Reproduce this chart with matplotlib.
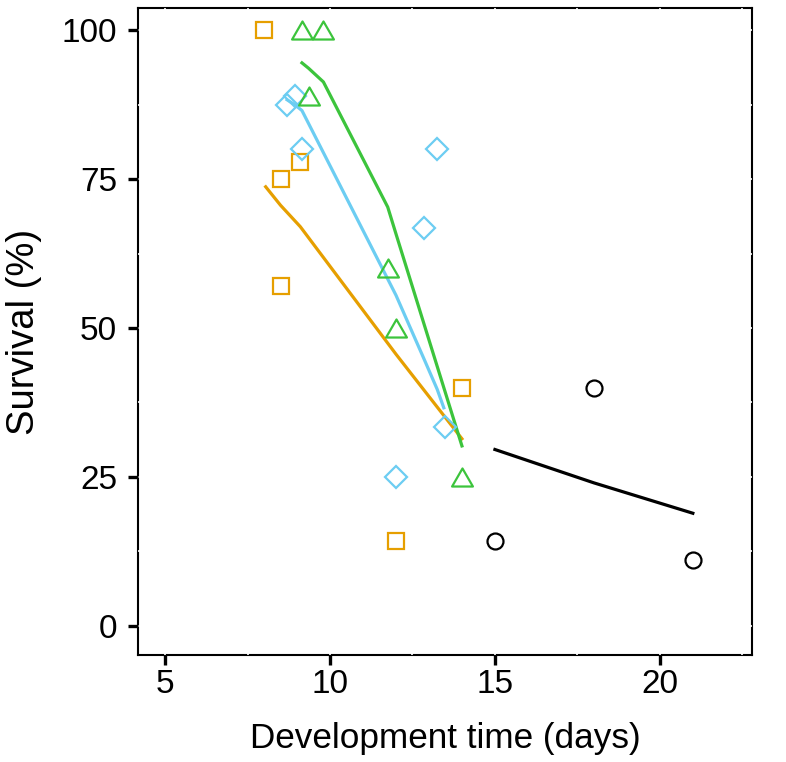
import matplotlib
matplotlib.use("Agg")
import matplotlib.pyplot as plt
from matplotlib.path import Path
from matplotlib.ticker import MultipleLocator

plt.rcParams["font.family"] = ["Liberation Sans", "DejaVu Sans"]

# observed points (development time in days, survival in %)
orange_x = [8.0, 8.5, 9.1, 8.5, 14.0, 12.0]
orange_y = [100.0, 75.0, 77.8, 57.1, 40.0, 14.3]
blue_x = [8.7, 8.95, 9.15, 13.25, 12.85, 13.5, 12.0]
blue_y = [87.5, 89.0, 80.0, 80.0, 66.7, 33.3, 25.0]
green_x = [9.15, 9.8, 9.35, 11.75, 12.0, 14.0]
green_y = [100.0, 100.0, 88.9, 60.0, 50.0, 25.0]
black_x = [15.0, 18.0, 21.0]
black_y = [14.3, 40.0, 11.1]

# fitted curves
orange_fit_x = [8.05, 8.5, 9.1, 12.0, 14.0]
orange_fit_y = [73.7, 70.6, 67.0, 45.6, 31.4]
blue_fit_x = [8.7, 8.95, 9.15, 12.0, 12.85, 13.25, 13.45]
blue_fit_y = [88.3, 87.4, 86.5, 55.5, 44.8, 39.7, 36.6]
green_fit_x = [9.15, 9.35, 9.8, 11.75, 12.0, 14.0]
green_fit_y = [94.5, 93.6, 91.3, 70.3, 65.8, 30.2]
black_fit_x = [15.0, 18.0, 21.0]
black_fit_y = [29.6, 24.0, 18.9]

x_ticks = [5, 10, 15, 20]
y_ticks = [0, 25, 50, 75, 100]

ORANGE = "#E69F00"
BLUE = "#6CCDF2"
GREEN = "#3CC43C"
BLACK = "#000000"

tri = Path([(-1, -0.866), (1, -0.866), (0, 0.866), (-1, -0.866)], closed=True)

fig = plt.figure(figsize=(7.86, 7.62), dpi=100)
ax = fig.add_axes([0.1756, 0.1404, 0.781, 0.849])

lw = 2.3
mew = 1.6
ax.plot(orange_fit_x, orange_fit_y, color=ORANGE, lw=lw, zorder=3)
ax.plot(blue_fit_x, blue_fit_y, color=BLUE, lw=lw, zorder=3)
ax.plot(green_fit_x, green_fit_y, color=GREEN, lw=lw, zorder=3)
ax.plot(black_fit_x, black_fit_y, color=BLACK, lw=lw, zorder=3)

ax.plot(orange_x, orange_y, ls="none", marker="s", ms=11, mfc="none",
        mec=ORANGE, mew=mew, zorder=4)
ax.plot(blue_x, blue_y, ls="none", marker="D", ms=10.8, mfc="none",
        mec=BLUE, mew=mew, zorder=4)
ax.plot(green_x, green_y, ls="none", marker=tri, ms=15, mfc="none",
        mec=GREEN, mew=mew, zorder=4)
ax.plot(black_x, black_y, ls="none", marker="o", ms=11.5, mfc="none",
        mec=BLACK, mew=mew, zorder=4)

ax.set_xlim(4.18, 22.79)
ax.set_ylim(-4.9, 103.7)
ax.set_xticks(x_ticks)
ax.set_yticks(y_ticks)
ax.xaxis.set_minor_locator(MultipleLocator(2.5))
ax.yaxis.set_minor_locator(MultipleLocator(12.5))

for sp in ax.spines.values():
    sp.set_linewidth(1.5)
    sp.set_zorder(0.2)
ax.set_axisbelow(True)
ax.grid(which="both", color="white", lw=1.2)

ax.tick_params(axis="both", which="major", direction="out", length=7,
               width=2.4, labelsize=24)
ax.tick_params(axis="both", which="minor", length=0)
ax.tick_params(axis="y", pad=8)
ax.tick_params(axis="x", pad=3)

ax.set_xlabel("Development time (days)", fontsize=25.3, labelpad=16)
ax.set_ylabel("Survival (%)", fontsize=27.5, labelpad=14)

fig.savefig("out.png", dpi=100)
